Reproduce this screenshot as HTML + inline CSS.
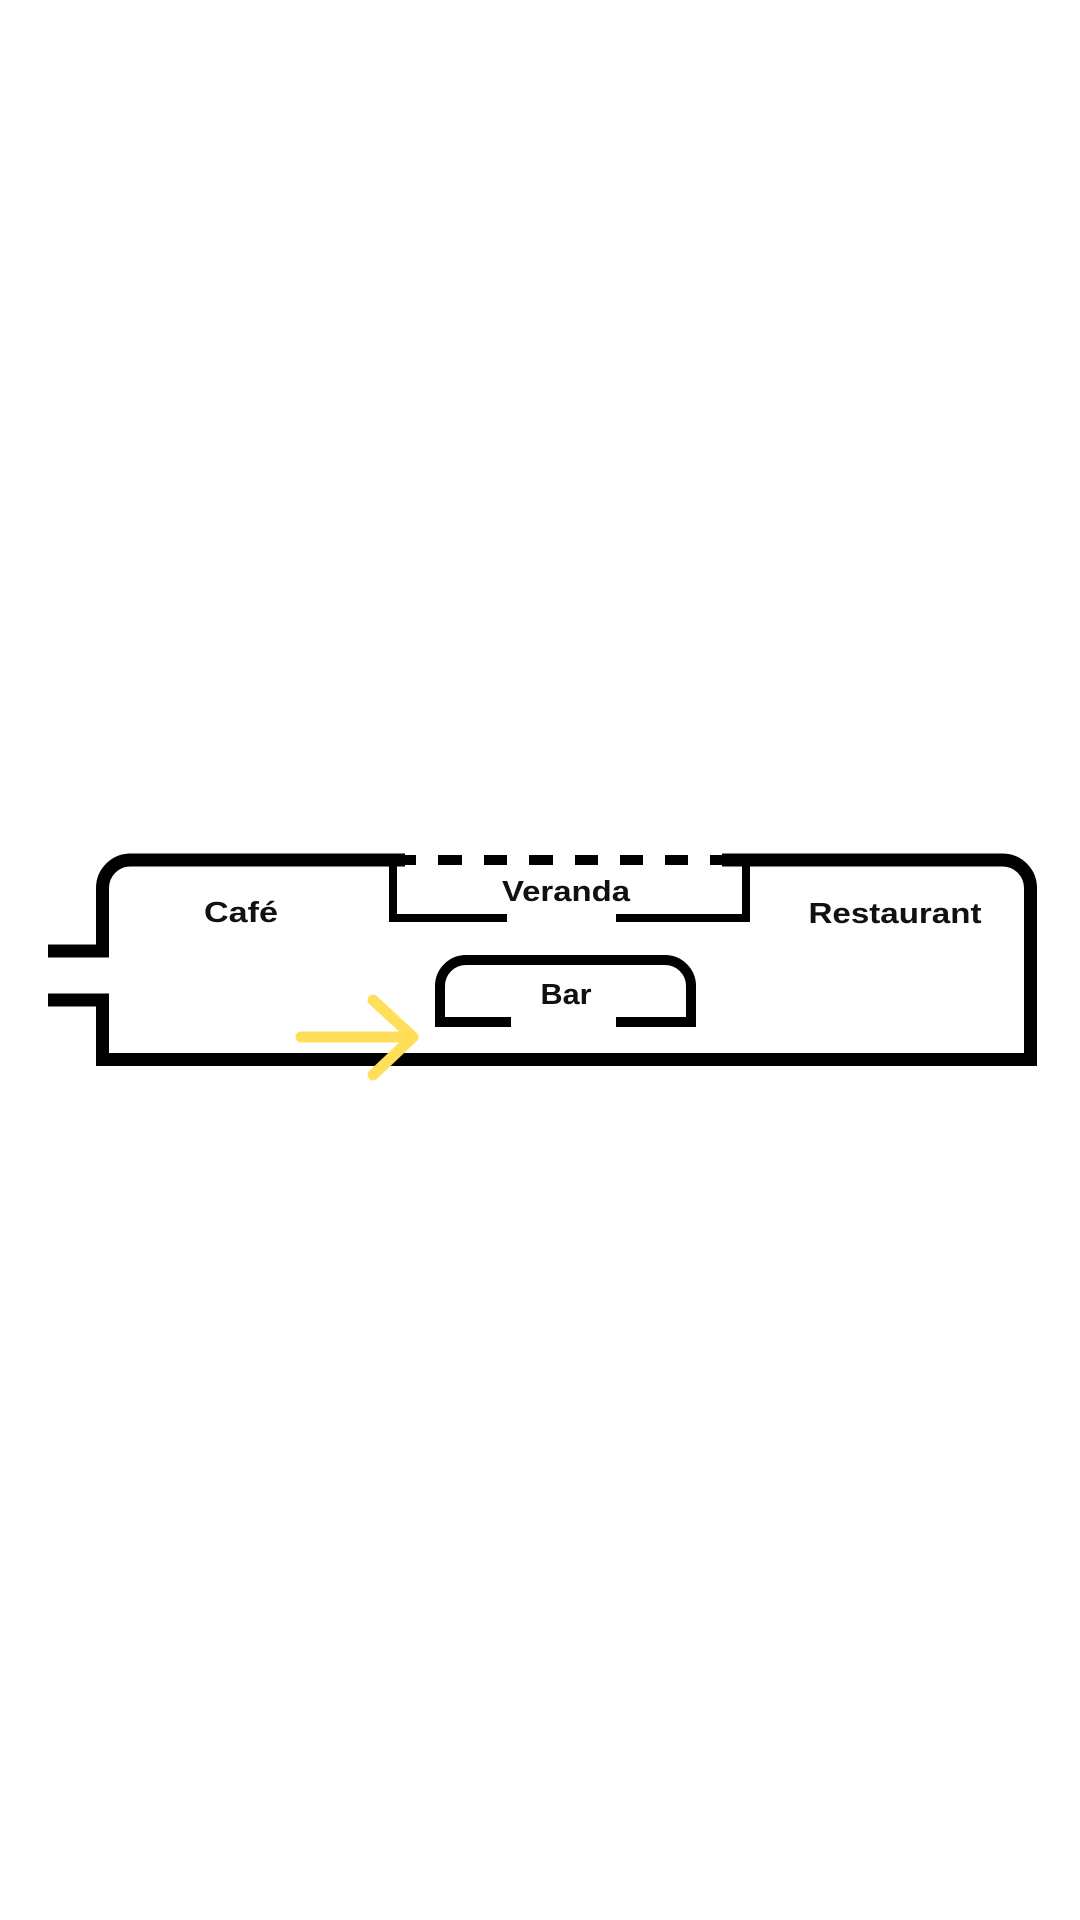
<!DOCTYPE html>
<html><head><meta charset="utf-8"><style>html,body{margin:0;padding:0;background:#fff}svg{display:block}</style></head>
<body>
<svg width="1080" height="1920" viewBox="0 0 1080 1920" xmlns="http://www.w3.org/2000/svg">
<rect width="1080" height="1920" fill="#fff"/>
<g fill="none" stroke="#000" stroke-linejoin="miter">
<path d="M48 951 H102.5 V888 A28 28 0 0 1 130.5 860 H405" stroke-width="13"/>
<path d="M48 1000 H102.5 V1059.5 H1030.5 V888 A28 28 0 0 0 1002.5 860 H722" stroke-width="13"/>
<path d="M400 860 H416 M438 860 H462 M484 860 H507 M529 860 H553 M575 860 H598 M620 860 H643 M665 860 H688 M710 860 H724" stroke-width="10"/>
<path d="M393 860 V918 H507 M616 918 H746 V860" stroke-width="8"/>
<path d="M511 1022 H440 V986 A26 26 0 0 1 466 960 H665 A26 26 0 0 1 691 986 V1022 H616" stroke-width="10"/>
</g>
<g stroke="#FFDF5A" stroke-width="11" stroke-linecap="round" stroke-linejoin="round" fill="none">
<path d="M301 1037 H413"/>
<path d="M373 1000 L413 1037 L373 1075"/>
</g>
<g font-family="Liberation Sans, sans-serif" font-weight="bold" font-size="29" fill="#111" text-anchor="middle">
<text x="241" y="922" textLength="74" lengthAdjust="spacingAndGlyphs">Café</text>
<text x="566" y="901" textLength="128" lengthAdjust="spacingAndGlyphs">Veranda</text>
<text x="895" y="923" textLength="173" lengthAdjust="spacingAndGlyphs">Restaurant</text>
<text x="566" y="1004" textLength="51" lengthAdjust="spacingAndGlyphs">Bar</text>
</g>
</svg>
</body></html>
